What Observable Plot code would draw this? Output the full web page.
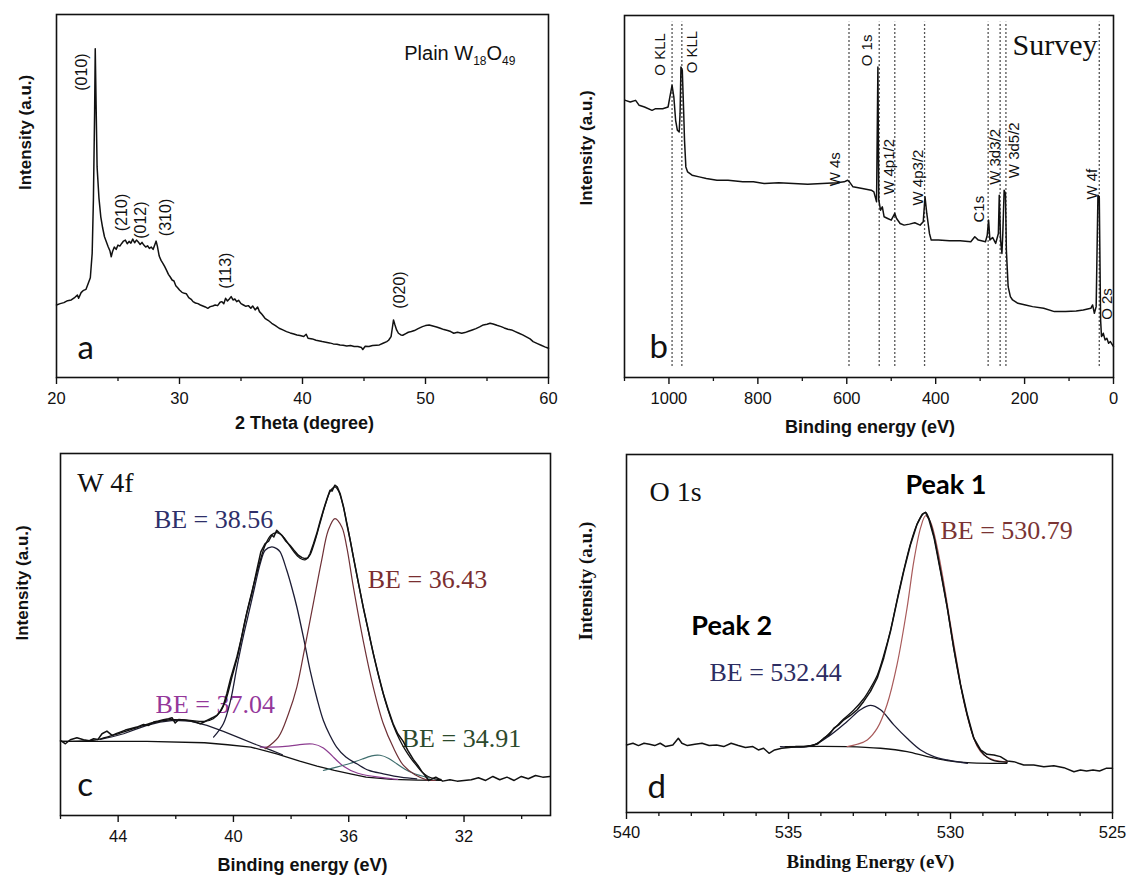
<!DOCTYPE html>
<html>
<head>
<meta charset="utf-8">
<script src="https://cdn.jsdelivr.net/npm/d3@7"></script>
<script src="https://cdn.jsdelivr.net/npm/@observablehq/plot@0.6"></script>
<style>
  body { margin: 0; background: #fff; }
  #figure { position: relative; width: 1129px; height: 879px; overflow: hidden; background: #fff; }
  .panel { position: absolute; }
</style>
</head>
<body>
<div id="figure"></div>
<script>
// ---------- (a) XRD pattern of plain W18O49 ----------
const xrdTheta = [20.0,20.3,20.6,20.9,21.2,21.5,21.7,21.8,22.0,22.2,22.4,22.6,22.75,22.9,23.0,23.1,23.15,23.22,23.3,23.45,23.6,23.75,23.9,24.05,24.2,24.35,24.45,24.55,24.7,24.85,25.0,25.15,25.3,25.45,25.6,25.75,25.9,26.05,26.2,26.35,26.5,26.65,26.8,26.95,27.1,27.25,27.4,27.55,27.7,27.85,28.0,28.1,28.2,28.35,28.5,28.65,28.8,28.95,29.1,29.25,29.4,29.55,29.7,29.85,30.0,30.2,30.4,30.55,30.75,30.95,31.1,31.3,31.5,31.7,31.9,32.1,32.3,32.5,32.7,32.9,33.1,33.3,33.45,33.6,33.75,33.9,34.05,34.2,34.35,34.5,34.65,34.8,35.0,35.2,35.4,35.6,35.8,35.95,36.15,36.35,36.5,36.7,36.95,37.2,37.5,37.8,38.1,38.4,38.7,39.0,39.3,39.55,39.8,40.1,40.3,40.45,40.8,41.1,41.4,41.6,41.9,42.2,42.5,42.8,43.05,43.3,43.6,43.9,44.2,44.5,44.8,44.9,45.1,45.4,45.7,46.0,46.25,46.55,46.85,47.0,47.2,47.3,47.4,47.5,47.65,47.8,48.0,48.15,48.4,48.6,48.85,49.1,49.4,49.75,50.0,50.3,50.6,50.9,51.2,51.5,51.8,52.05,52.3,52.6,52.95,53.2,53.5,53.8,54.1,54.4,54.7,55.0,55.25,55.5,55.8,56.15,56.4,56.7,57.0,57.3,57.6,57.9,58.2,58.5,58.75,59.1,59.4,59.7,60.0];
const xrdIntensity = [218,222,225,231,233,241,248,238,255,262,265,285,300,373,533,800,988,820,633,540,483,450,423,408,393,380,363,378,392,385,398,395,403,410,413,402,409,404,416,405,413,407,400,406,398,392,396,388,392,385,400,410,395,365,352,343,333,322,310,302,293,290,276,270,263,256,253,252,240,235,228,224,222,218,215,212,208,213,215,218,216,226,228,222,238,230,236,243,233,236,228,232,222,218,214,216,208,215,203,212,198,190,178,172,163,156,148,143,138,134,131,128,126,123,130,118,116,112,110,108,106,104,101,100,98,97,95,96,93,93,90,84,94,93,96,97,98,103,108,112,123,148,173,160,143,133,128,127,132,136,138,141,147,153,156,158,155,152,148,144,141,138,133,136,133,135,139,143,147,152,158,160,163,161,157,153,149,145,143,138,133,128,122,116,108,102,97,92,88];
const xrdPeakNames = ["(010)", "(210)", "(012)", "(310)", "(113)", "(020)"];
const xrdPeakTheta = [22.1, 25.3, 26.9, 28.9, 33.8, 47.9];
const xrdPeakLevel = [918, 496, 473, 481, 321, 263];
const xrdTicks = [20, 30, 40, 50, 60];
const xrdMinorTicks = [25, 35, 45, 55];

// ---------- (b) XPS survey ----------
const surveyEnergy = [1098,1087,1075,1067,1055,1038,1030,1014,1002,998,993,989,985,981,977,975,973,970,967,965,962,958,948,932,916,892,867,834,810,785,753,720,688,655,622,606,598,594,586,565,545,539,536,533,530,528,524,520,516,508,500,492,488,480,471,459,447,435,428,424,420,414,410,394,369,345,321,312,304,288,284,281,278,272,265,259,257,254,251,249,246,243,241,237,232,227,215,198,182,157,133,108,84,68,51,47,43,39,35,32,29,27,23,19,15,11,7,0];
const surveyIntensity = [833,828,833,818,813,803,808,808,813,843,878,843,773,743,738,793,933,923,803,713,633,618,608,603,598,593,593,588,588,583,585,583,581,583,585,588,593,588,573,568,563,558,543,528,933,533,503,513,483,478,473,493,478,463,458,461,465,458,468,543,493,433,413,413,411,411,408,423,413,408,428,473,413,421,403,433,548,413,373,433,563,553,383,273,243,233,223,218,213,208,198,198,200,203,208,218,193,213,548,543,173,123,133,113,118,103,108,93];
const surveyLineEnergy = [993, 971, 595, 527, 492, 425, 282, 255, 242, 32];
const surveyNames = ["O KLL", "O KLL", "O 1s", "W 4s", "W 4p1/2", "W 4p3/2", "C1s", "W 3d3/2", "W 3d5/2", "W 4f", "O 2s"];
const surveyNameEnergy = [1020, 947, 555, 626, 504, 439, 302, 266, 223, 49, 15];
const surveyNameLevel = [971, 978, 983, 626, 633, 601, 506, 663, 683, 581, 221];
const surveyTicks = [1000, 800, 600, 400, 200, 0];
const surveyMinorTicks = [1100, 900, 700, 500, 300, 100];

// ---------- (c) W 4f high-resolution spectrum ----------
const w4fEnergy = [46.0,45.83,45.66,45.43,45.2,45.0,44.85,44.7,44.56,44.39,44.21,44.05,43.93,43.75,43.58,43.35,43.12,42.95,42.77,42.6,42.43,42.25,42.13,42.02,41.9,41.7,41.5,41.3,41.15,41.0,40.92,40.8,40.69,40.58,40.46,40.35,40.23,40.1,39.88,39.7,39.54,39.35,39.19,39.05,38.9,38.78,38.67,38.6,38.5,38.42,38.32,38.18,38.04,37.9,37.75,37.62,37.52,37.42,37.34,37.22,37.11,37.0,36.88,36.76,36.65,36.58,36.48,36.4,36.3,36.18,36.07,35.95,35.84,35.67,35.5,35.32,35.15,34.98,34.8,34.63,34.46,34.3,34.11,33.95,33.76,33.6,33.45,33.35,33.23,32.98,32.74,32.49,32.24,32.0,31.75,31.5,31.25,31.0,30.76,30.51,30.26,30.01,29.77,29.52,29.27,29.02];
const w4fCounts = [225,215,227,233,227,224,230,228,245,253,240,246,250,256,260,265,273,270,280,283,287,290,293,277,288,286,283,280,275,281,285,290,295,300,312,330,365,410,475,540,605,670,735,790,815,822,840,835,855,848,840,822,810,795,780,773,770,772,785,815,845,880,915,948,975,972,990,985,965,925,875,825,775,700,625,555,485,425,365,318,275,245,222,195,168,150,130,120,105,115,103,107,103,105,107,113,105,117,107,115,105,117,110,120,115,117];
const w4fFitEnergy = [46.0,45.0,44.6,44.0,43.4,42.8,42.2,41.6,41.0,40.7,40.45,40.25,40.05,39.85,39.6,39.35,39.1,38.9,38.7,38.5,38.3,38.1,37.9,37.7,37.52,37.35,37.2,37.0,36.8,36.62,36.48,36.35,36.2,36.05,35.85,35.65,35.45,35.25,35.05,34.85,34.65,34.45,34.25,34.05,33.85,33.65,33.45,33.25,33.0,32.8];
const w4fFit = [222,224,230,245,262,278,287,286,282,290,312,350,415,480,585,675,755,810,840,848,838,815,790,772,766,780,815,875,935,975,985,972,930,870,780,690,605,525,450,380,320,270,230,198,172,150,130,117,110,108];
const w4fBgEnergy = [46.0,43.0,41.0,40.2,39.4,38.5,37.7,37.1,36.5,35.9,35.4,34.9,34.5,33.6,32.8];
const w4fBg = [222,222,218,212,205,185,163,148,135,124,115,111,108,106,105];
const w4fHumpEnergy = [44.62,44.2,43.81,43.4,43.0,42.55,42.08,41.5,40.92,40.35,39.77,39.2,38.7,38.3];
const w4fHump = [228,236,245,258,270,280,285,283,270,252,232,212,196,182];
const w4f3856Energy = [40.69,40.35,40.1,39.88,39.65,39.42,39.25,39.07,38.9,38.67,38.5,38.38,38.15,37.98,37.8,37.55,37.34,37.1,36.88,36.65,36.42,36.1,35.72,35.3,34.8,34.2,33.64];
const w4f3856 = [235,275,345,445,540,625,690,755,795,805,800,790,735,685,625,525,435,350,285,240,205,175,155,135,125,115,110];
const w4f3643Energy = [38.9,38.44,38.09,37.8,37.52,37.23,36.94,36.71,36.48,36.24,36.07,35.84,35.5,35.15,34.8,34.46,34.1,33.7,33.3,33.0];
const w4f3643 = [200,235,305,385,505,635,765,855,890,865,805,685,525,385,275,205,150,122,107,105];
const w4f3704Energy = [39.07,38.27,37.69,37.23,36.88,36.53,36.19,35.72,35.03,34.3];
const w4f3704 = [205,205,213,217,205,175,145,125,115,108];
const w4f3491Energy = [36.88,36.42,35.96,35.5,35.2,34.92,34.6,34.34,34.05,33.76,33.2];
const w4f3491 = [135,145,155,170,180,183,172,155,138,125,112];
const w4fNotes = ["BE = 38.56", "BE = 36.43", "BE = 37.04", "BE = 34.91"];
const w4fNoteEnergy = [42.76, 35.34, 42.70, 34.16];
const w4fNoteLevel = [863, 683, 307, 205];
const w4fTicks = [44, 40, 36, 32];
const w4fMinorTicks = [46, 42, 38, 34, 30];

// ---------- (d) O 1s high-resolution spectrum ----------
const o1sEnergy = [540.0,539.8,539.63,539.46,539.29,539.13,538.96,538.79,538.57,538.4,538.29,538.12,537.89,537.67,537.45,537.22,537.0,536.77,536.55,536.33,536.1,535.93,535.77,535.6,535.43,535.21,534.98,534.76,534.53,534.31,534.1,533.91,533.75,533.6,533.45,533.29,533.09,532.88,532.68,532.47,532.26,532.06,531.85,531.65,531.44,531.23,531.03,530.87,530.77,530.67,530.51,530.31,530.1,529.9,529.69,529.48,529.28,529.07,528.87,528.66,528.46,528.25,528.05,527.74,527.43,527.12,526.81,526.5,526.19,525.99,525.8,525.6,525.4,525.2,525.0];
const o1sCounts = [202,207,200,207,204,200,207,197,202,222,207,200,204,207,200,202,197,207,200,194,197,187,192,177,187,192,194,197,197,200,205,222,232,252,262,277,290,307,332,362,402,462,542,632,722,802,862,892,897,877,822,722,612,492,382,292,222,187,174,172,167,154,152,142,142,137,140,134,122,127,124,127,124,132,132];
const o1sFitEnergy = [535.1,534.27,533.9,533.6,533.29,533.0,532.68,532.47,532.26,532.06,531.85,531.65,531.44,531.23,531.03,530.87,530.77,530.67,530.51,530.31,530.1,529.9,529.69,529.48,529.28,529.07,528.87,528.66,528.25];
const o1sFit = [197,200,222,250,280,305,340,372,410,470,545,635,725,805,862,890,897,880,825,725,612,490,380,290,222,185,165,155,150];
const o1sPeak1Energy = [533.19,532.88,532.57,532.26,531.96,531.65,531.34,531.13,530.92,530.77,530.61,530.41,530.2,530.0,529.79,529.59,529.38,529.17,528.97,528.66,528.25];
const o1sPeak1 = [197,204,217,252,322,442,612,752,852,887,867,792,682,562,442,332,252,197,172,157,152];
const o1sPeak2Energy = [535.25,534.27,533.7,533.19,532.78,532.47,532.16,531.75,531.34,530.92,530.51,530.1,529.48];
const o1sPeak2 = [197,200,232,272,307,320,307,262,222,187,167,157,147];
const o1sBgEnergy = [535.1,533.19,532.16,531.34,530.72,530.1,529.48,528.66,528.26];
const o1sBg = [197,197,192,182,167,155,149,147,147];
const o1sNotes = ["BE = 530.79", "BE = 532.44"];
const o1sNoteEnergy = [530.31, 537.44];
const o1sNoteLevel = [818, 394];
const o1sPeakNames = ["Peak 1", "Peak 2"];
const o1sPeakNameEnergy = [531.39, 538.0];
const o1sPeakNameLevel = [953, 532];
const o1sTicks = [540, 535, 530, 525];
const o1sMinorTicks = [539, 538, 537, 536, 534, 533, 532, 531, 529, 528, 527, 526];

// ---------- helpers ----------
const zip = (xs, ys) => xs.map((x, i) => ({x, y: ys[i]}));
const tagged = (texts, xs, ys) => texts.map((text, i) => ({text, x: xs[i], y: ys[i]}));
const SANS = "'Liberation Sans', Arial, sans-serif";
const SERIF = "'Liberation Serif', 'Times New Roman', serif";
const LETTER = "Lato, 'Open Sans', sans-serif";
const INK = "#111";

// bottom axis: outward major/minor ticks plus numeric labels
function bottomAxis(major, minor, labelGap) {
  return [
    Plot.axisX(major, {tickSize: 7, strokeWidth: 1.4, tickFormat: () => "", label: null}),
    Plot.axisX(minor, {tickSize: 4, strokeWidth: 1.3, tickFormat: () => "", label: null}),
    Plot.text(major, {x: d => d, text: d => String(d), frameAnchor: "bottom", lineAnchor: "top",
      dy: labelGap, fontSize: 16.5, fontFamily: SANS, fill: INK})
  ];
}
function yTitle(title, dx, dy, font, size) {
  return Plot.text([title], {text: d => d, frameAnchor: "left", rotate: -90, dx, dy,
    fontFamily: font, fontWeight: "bold", fontSize: size, fill: INK});
}
function xTitle(title, dx, dy, font, size) {
  return Plot.text([title], {text: d => d, frameAnchor: "bottom", lineAnchor: "bottom", dx, dy,
    fontFamily: font, fontWeight: "bold", fontSize: size, fill: INK});
}
function note(list, opts) {
  return Plot.text(list, {x: "x", y: "y", text: "text", textAnchor: "start", lineAnchor: "bottom", ...opts});
}
function place(svg, left, top) {
  const holder = document.createElement("div");
  holder.className = "panel";
  holder.style.left = left + "px";
  holder.style.top = top + "px";
  holder.appendChild(svg);
  document.getElementById("figure").appendChild(holder);
}
const baseStyle = {fontFamily: SANS, fontSize: "16px", color: INK, background: "transparent", overflow: "visible"};

// ---------- panel a ----------
const sampleName = "Plain W18O49";
const plotA = Plot.plot({
  width: 560, height: 440,
  marginLeft: 56, marginRight: 12, marginTop: 14, marginBottom: 63,
  style: baseStyle,
  x: {domain: [20, 60]},
  y: {domain: [0, 1091], axis: null},
  marks: [
    Plot.line(zip(xrdTheta, xrdIntensity), {x: "x", y: "y", stroke: INK, strokeWidth: 1.5}),
    Plot.text(tagged(xrdPeakNames, xrdPeakTheta, xrdPeakLevel), {x: "x", y: "y", text: "text", rotate: -90, fontSize: 16, fill: INK}),
    note([{text: sampleName, x: 48.27, y: 953}], {fontSize: 20, fill: INK}),
    note([{text: "a", x: 21.7, y: 57}], {fontSize: 33, fontFamily: LETTER, fill: INK}),
    ...bottomAxis(xrdTicks, xrdMinorTicks, 15),
    yTitle("Intensity (a.u.)", -31, -6, SANS, 17),
    xTitle("2 Theta (degree)", 2, 51, SANS, 18),
    Plot.frame({stroke: INK, strokeWidth: 1.6})
  ]
});
// chemical formula with subscripts
plotA.querySelectorAll("text").forEach(t => {
  if (t.textContent === sampleName) {
    t.textContent = "";
    const parts = [["Plain W", 0], ["18", 1], ["O", 0], ["49", 1]];
    let lowered = false;
    for (const [s, sub] of parts) {
      const span = document.createElementNS("http://www.w3.org/2000/svg", "tspan");
      span.textContent = s;
      if (sub) { span.setAttribute("font-size", "12"); if (!lowered) span.setAttribute("dy", "5"); lowered = true; }
      else if (lowered) { span.setAttribute("dy", "-5"); lowered = false; }
      t.appendChild(span);
    }
  }
});
place(plotA, 0, 0);

// ---------- panel b ----------
const plotB = Plot.plot({
  width: 569, height: 440,
  marginLeft: 64, marginRight: 16, marginTop: 15, marginBottom: 63,
  style: baseStyle,
  x: {domain: [1100, 0]},
  y: {domain: [0, 1088], axis: null},
  marks: [
    Plot.ruleX(surveyLineEnergy, {x: d => d, y1: 33, y2: 1068, stroke: "#555", strokeWidth: 1.3, strokeDasharray: "2,2"}),
    Plot.line(zip(surveyEnergy, surveyIntensity), {x: "x", y: "y", stroke: INK, strokeWidth: 1.5}),
    Plot.text(tagged(surveyNames, surveyNameEnergy, surveyNameLevel), {x: "x", y: "y", text: "text", rotate: -90, fontSize: 15, fill: INK}),
    note([{text: "Survey", x: 227, y: 968}], {fontSize: 30, fontFamily: SERIF, fill: INK}),
    note([{text: "b", x: 1044, y: 60}], {fontSize: 33, fontFamily: LETTER, fill: INK}),
    ...bottomAxis(surveyTicks, surveyMinorTicks, 15),
    yTitle("Intensity (a.u.)", -38, 9, SANS, 17),
    xTitle("Binding energy (eV)", 1, 55, SANS, 18),
    Plot.frame({stroke: INK, strokeWidth: 1.6})
  ]
});
place(plotB, 560, 0);

// ---------- panel c ----------
const w4fNoteColors = ["#2e2f6a", "#7a2e30", "#94379a", "#2c4a2c"];
const plotC = Plot.plot({
  width: 560, height: 439,
  marginLeft: 60, marginRight: 10, marginTop: 13, marginBottom: 64,
  style: baseStyle,
  x: {domain: [46, 29]},
  y: {domain: [0, 1085], axis: null},
  marks: [
    note([{text: "W 4f", x: 45.42, y: 970}], {fontSize: 28, fontFamily: SERIF, fill: INK}),
    note(tagged(w4fNotes, w4fNoteEnergy, w4fNoteLevel), {fontSize: 26, fontFamily: SERIF,
      fill: d => w4fNoteColors[w4fNotes.indexOf(d.text)]}),
    Plot.line(zip(w4fBgEnergy, w4fBg), {x: "x", y: "y", stroke: INK, strokeWidth: 1.3}),
    Plot.line(zip(w4fHumpEnergy, w4fHump), {x: "x", y: "y", stroke: "#1d1d30", strokeWidth: 1.2}),
    Plot.line(zip(w4f3704Energy, w4f3704), {x: "x", y: "y", stroke: "#8c3c90", strokeWidth: 1.2, curve: "basis"}),
    Plot.line(zip(w4f3491Energy, w4f3491), {x: "x", y: "y", stroke: "#3f6e6e", strokeWidth: 1.2, curve: "basis"}),
    Plot.line(zip(w4f3856Energy, w4f3856), {x: "x", y: "y", stroke: "#1c1c34", strokeWidth: 1.3, curve: "catmull-rom"}),
    Plot.line(zip(w4f3643Energy, w4f3643), {x: "x", y: "y", stroke: "#6e3036", strokeWidth: 1.2, curve: "catmull-rom"}),
    Plot.line(zip(w4fFitEnergy, w4fFit), {x: "x", y: "y", stroke: INK, strokeWidth: 1.3, curve: "catmull-rom"}),
    Plot.line(zip(w4fEnergy, w4fCounts), {x: "x", y: "y", stroke: INK, strokeWidth: 1.5}),
    note([{text: "c", x: 45.42, y: 57}], {fontSize: 33, fontFamily: LETTER, fill: INK}),
    ...bottomAxis(w4fTicks, w4fMinorTicks, 15),
    yTitle("Intensity (a.u.)", -38, 6, SANS, 17),
    xTitle("Binding energy (eV)", -3, 55, SANS, 18),
    Plot.frame({stroke: INK, strokeWidth: 1.6})
  ]
});
place(plotC, 0, 440);

// ---------- panel d ----------
const plotD = Plot.plot({
  width: 569, height: 439,
  marginLeft: 66, marginRight: 17, marginTop: 14, marginBottom: 67,
  style: baseStyle,
  x: {domain: [540, 525]},
  y: {domain: [0, 1070], axis: null},
  marks: [
    note([{text: "O 1s", x: 539.29, y: 932}], {fontSize: 28, fontFamily: SERIF, fill: INK}),
    note(tagged(o1sPeakNames, o1sPeakNameEnergy, o1sPeakNameLevel), {fontSize: 27, fontFamily: LETTER, fontWeight: "bold", fill: "#000"}),
    note(tagged(o1sNotes, o1sNoteEnergy, o1sNoteLevel), {fontSize: 26, fontFamily: SERIF,
      fill: d => d.text === o1sNotes[0] ? "#7a3434" : "#2c2d62"}),
    Plot.line(zip(o1sBgEnergy, o1sBg), {x: "x", y: "y", stroke: INK, strokeWidth: 1.3, curve: "catmull-rom"}),
    Plot.line(zip(o1sPeak2Energy, o1sPeak2), {x: "x", y: "y", stroke: "#1c1c34", strokeWidth: 1.3, curve: "catmull-rom"}),
    Plot.line(zip(o1sPeak1Energy, o1sPeak1), {x: "x", y: "y", stroke: "#a85a5a", strokeWidth: 1.2, curve: "catmull-rom"}),
    Plot.line(zip(o1sFitEnergy, o1sFit), {x: "x", y: "y", stroke: INK, strokeWidth: 1.3, curve: "catmull-rom"}),
    Plot.line(zip(o1sEnergy, o1sCounts), {x: "x", y: "y", stroke: INK, strokeWidth: 1.5}),
    note([{text: "d", x: 539.35, y: 44}], {fontSize: 33, fontFamily: LETTER, fill: INK}),
    ...bottomAxis(o1sTicks, o1sMinorTicks, 14),
    yTitle("Intensity (a.u.)", -41, 7, SERIF, 19),
    xTitle("Binding Energy (eV)", 1, 55, SERIF, 19),
    Plot.frame({stroke: INK, strokeWidth: 1.6})
  ]
});
place(plotD, 560, 440);
</script>
</body>
</html>
